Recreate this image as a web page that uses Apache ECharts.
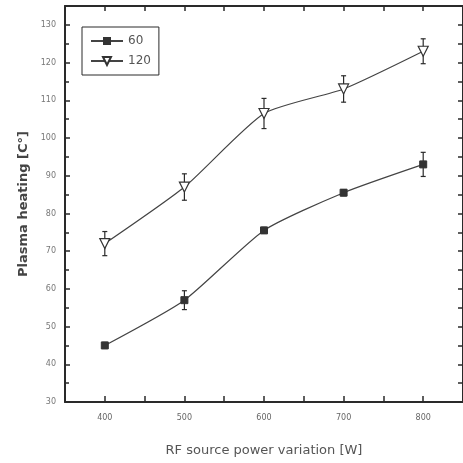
<!DOCTYPE html>
<html><head><meta charset="utf-8">
<script src="https://cdn.jsdelivr.net/npm/echarts@6/dist/echarts.min.js"></script>
<style>html,body{margin:0;padding:0;background:#fff}#c{width:463px;height:463px}</style>
</head><body><div id="c"></div>
<script>
const powers = [400, 500, 600, 700, 800];
const heat60 = [45, 57, 75.5, 85.5, 93];
const err60 = [0.8, 2.5, 0.8, 0.8, 3.2];
const heat120 = [72, 87, 106.5, 113, 123];
const err120 = [3.2, 3.5, 4, 3.5, 3.3];
const yTicks = [30, 40, 50, 60, 70, 80, 90, 100, 110, 120, 130];

const ink = '#2a2a2a';
function errSeries(vals, errs) {
  return {
    type: 'custom', xAxisIndex: 0, yAxisIndex: 0, z: 1,
    data: powers.map((p, i) => [p, vals[i] - errs[i], vals[i] + errs[i]]),
    renderItem: function (params, api) {
      const lo = api.coord([api.value(0), api.value(1)]);
      const hi = api.coord([api.value(0), api.value(2)]);
      const w = 2.5;
      const st = { stroke: ink, lineWidth: 1.2 };
      return { type: 'group', children: [
        { type: 'line', shape: { x1: lo[0], y1: lo[1], x2: hi[0], y2: hi[1] }, style: st },
        { type: 'line', shape: { x1: hi[0] - w, y1: hi[1], x2: hi[0] + w, y2: hi[1] }, style: st },
        { type: 'line', shape: { x1: lo[0] - w, y1: lo[1], x2: lo[0] + w, y2: lo[1] }, style: st }
      ]};
    }
  };
}
const chart = echarts.init(document.getElementById('c'));
const axisLine = { show: true, lineStyle: { color: ink, width: 2 } };
chart.setOption({
  animation: false,
  grid: { left: 65, right: -4, top: 6, bottom: 61 },
  legend: {
    data: ['60', '120'], orient: 'vertical', left: 82, top: 27,
    borderColor: ink, borderWidth: 1, padding: [8, 8, 8, 8], itemGap: 8,
    itemWidth: 32, itemHeight: 10,
    textStyle: { color: '#555', fontSize: 12, fontFamily: 'DejaVu Sans' }
  },
  xAxis: [{
    type: 'value', min: 350, max: 850, interval: 50,
    axisLine: axisLine,
    axisTick: { inside: true, length: 6, lineStyle: { color: ink, width: 1.5 } },
    splitLine: { show: false },
    axisLabel: { color: '#666', fontSize: 8, margin: 12, fontFamily: 'DejaVu Sans',
      customValues: powers,
      formatter: v => powers.includes(v) ? String(v) : '' },
    name: 'RF source power variation [W]', nameLocation: 'middle', nameGap: 42,
    nameTextStyle: { color: '#555', fontSize: 13, fontFamily: 'DejaVu Sans' }
  }, {
    type: 'value', position: 'top', min: 350, max: 850, interval: 50,
    axisLine: axisLine,
    axisTick: { inside: true, length: 5, lineStyle: { color: ink, width: 1.5 } },
    axisLabel: { show: false }, splitLine: { show: false }
  }],
  yAxis: [{
    type: 'value', min: 30, max: 135, interval: 10,
    axisLine: axisLine,
    axisTick: { inside: true, length: 5, lineStyle: { color: ink, width: 1.5 } },
    minorTick: { show: true, splitNumber: 2, length: 4, lineStyle: { color: ink, width: 1.5 } },
    splitLine: { show: false },
    axisLabel: { color: '#777', fontSize: 8, margin: 9, showMaxLabel: false, fontFamily: 'DejaVu Sans',
      formatter: v => yTicks.includes(v) ? String(v) : '' },
    name: 'Plasma heating [C°]', nameLocation: 'middle', nameGap: 34,
    nameTextStyle: { color: '#444', fontSize: 13, fontWeight: 'bold', fontFamily: 'DejaVu Sans' }
  }, {
    type: 'value', position: 'right', min: 30, max: 135, interval: 5,
    axisLine: axisLine,
    axisTick: { inside: true, length: 5, lineStyle: { color: ink, width: 1.5 } },
    axisLabel: { show: false }, splitLine: { show: false }
  }],
  series: [
    errSeries(heat60, err60),
    errSeries(heat120, err120),
    {
      name: '60', type: 'line', smooth: 0.2, z: 3,
      data: powers.map((p, i) => [p, heat60[i]]),
      symbol: 'rect', symbolSize: 7,
      lineStyle: { color: '#444', width: 1.2 },
      itemStyle: { color: '#333', borderColor: '#333' }
    },
    {
      name: '120', type: 'line', smooth: 0.2, z: 3,
      data: powers.map((p, i) => [p, heat120[i]]),
      symbol: 'triangle', symbolRotate: 180, symbolSize: 10,
      lineStyle: { color: '#444', width: 1.2 },
      itemStyle: { color: '#fff', borderColor: '#333', borderWidth: 1.2 }
    }
  ]
});
</script></body></html>
